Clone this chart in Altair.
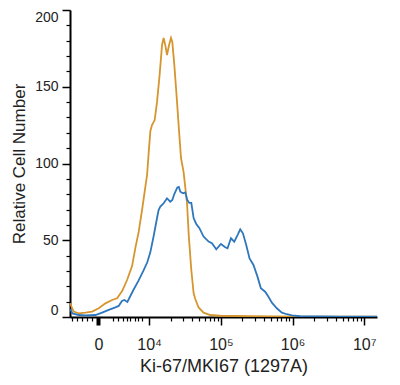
import math
import altair as alt
import pandas as pd

# x values are in display decades (biexponential-like axis: 10^4 -> 4, 10^5 -> 5 ...)
orange_x = [2.90, 2.923, 2.948, 3.018, 3.111, 3.205, 3.297, 3.390, 3.483, 3.553, 3.623, 3.692,
            3.762, 3.808, 3.854, 3.901, 3.947, 3.971, 3.993, 4.017, 4.040, 4.077, 4.110, 4.146,
            4.180, 4.202, 4.226, 4.249, 4.277, 4.305, 4.323, 4.351, 4.379, 4.411, 4.444, 4.480,
            4.528, 4.553, 4.588, 4.620, 4.643, 4.689, 4.759, 4.852, 4.99, 5.41, 6.106, 7.178]
orange_y = [9.1, 5.9, 3.5, 2.4, 2.8, 3.5, 5.7, 8.9, 11.1, 12.2, 16.9, 24.1,
            33.2, 45.0, 55.4, 69.7, 84.7, 92.5, 106.8, 121.2, 125.1, 128.3, 140.1, 157.7,
            177.2, 181.8, 177.0, 170.7, 177.0, 181.8, 179.2, 164.2, 146.6, 125.1, 103.6, 94.5,
            74.3, 52.8, 30.6, 15.6, 11.7, 6.2, 2.8, 1.3, 0.8, 0.5, 0.3, 0.2]

blue_x = [2.90, 2.930, 3.018, 3.111, 3.251, 3.344, 3.436, 3.529, 3.575, 3.620, 3.655, 3.696,
          3.738, 3.780, 3.850, 3.919, 3.975, 4.017, 4.063, 4.110, 4.132, 4.156, 4.202, 4.249,
          4.295, 4.323, 4.351, 4.393, 4.414, 4.435, 4.472, 4.504, 4.532, 4.560, 4.588, 4.620,
          4.657, 4.699, 4.759, 4.829, 4.876, 4.936, 5.001, 5.061, 5.093, 5.141, 5.187, 5.233,
          5.270, 5.308, 5.354, 5.400, 5.455, 5.511, 5.558, 5.618, 5.664, 5.712, 5.781, 5.851,
          5.921, 5.990, 6.106, 6.663, 7.178]
blue_y = [5.2, 2.3, 1.3, 1.0, 1.3, 2.8, 4.6, 6.3, 7.2, 10.4, 11.1, 9.8,
          13.7, 17.6, 23.5, 30.0, 35.8, 42.3, 52.8, 64.5, 69.7, 71.9, 74.1, 77.3,
          75.1, 76.2, 80.1, 84.4, 84.7, 81.6, 80.6, 81.1, 76.2, 74.3, 74.3, 64.5,
          60.6, 58.0, 52.4, 49.1, 48.0, 44.1, 47.6, 45.4, 44.8, 51.3, 49.1, 53.4,
          57.1, 54.5, 46.9, 38.2, 33.9, 26.3, 18.7, 16.5, 13.2, 9.3, 5.7, 2.8,
          1.8, 1.0, 0.5, 0.3, 0.3]

x_domain = [2.896, 7.178]
x_major = [3.293, 4, 5, 6, 7]
x_labels = ["0", "10\u2074", "10\u2075", "10\u2076", "10\u2077"]
x_minor_low = [2.93, 3.0, 3.07, 3.139, 3.209, 3.501, 3.571, 3.641, 3.696, 3.738, 3.808, 3.850, 3.905]
x_minor = x_minor_low + [n + math.log10(k) for n in (4, 5, 6) for k in range(2, 10)]

y_major = [0, 50, 100, 150, 200]
y_minor = [v for v in range(10, 200, 10) if v % 50 != 0]

FONT = "Liberation Sans"

expr = "''"
for v, l in reversed(list(zip(x_major, x_labels))):
    expr = f"abs(datum.value - {v}) < 0.01 ? '{l}' : ({expr})"

orange_df = pd.DataFrame({"x": orange_x, "y": orange_y})
blue_df = pd.DataFrame({"x": blue_x, "y": blue_y})

xscale = alt.Scale(domain=x_domain, nice=False, zero=False)
yscale = alt.Scale(domain=[0, 200], nice=False, zero=True)

major_x_axis = alt.Axis(
    orient="bottom", values=x_major, labelExpr=expr, grid=False,
    tickSize=8, tickColor="black",
    tickWidth={"condition": {"test": "abs(datum.value - 3.293) < 0.01", "value": 4}, "value": 1.5},
    domainColor="black", domainWidth=2, labelFont=FONT, labelFontSize=16, labelColor="#222",
    labelPadding=11, labelFlush=False, title="Ki-67/MKI67 (1297A)", titleFont=FONT,
    titleFontSize=18, titleFontWeight="normal", titleColor="#222", titlePadding=5,
)
major_y_axis = alt.Axis(
    orient="left", values=y_major, grid=False, tickSize=8, tickColor="black", tickWidth=1.5,
    domainColor="black", domainWidth=2, labelFont=FONT, labelFontSize=14, labelColor="#222",
    labelPadding=4, labelFlush=True, title="Relative Cell Number", titleFont=FONT,
    titleFontSize=17, titleFontWeight="normal", titleColor="#222", titlePadding=6,
)
minor_x_axis = alt.Axis(orient="bottom", values=x_minor, labels=False, grid=False, domain=False,
                        tickSize=4, tickColor="black", tickWidth=1.2, title=None)
minor_y_axis = alt.Axis(orient="left", values=y_minor, labels=False, grid=False, domain=False,
                        tickSize=4, tickColor="black", tickWidth=1.2, title=None)

orange = alt.Chart(orange_df).mark_line(color="#D6952E", strokeWidth=1.8, clip=True).encode(
    x=alt.X("x:Q", scale=xscale, axis=major_x_axis),
    y=alt.Y("y:Q", scale=yscale, axis=major_y_axis),
)
blue = alt.Chart(blue_df).mark_line(color="#2F77BD", strokeWidth=1.8, clip=True).encode(
    x=alt.X("x:Q", scale=xscale, axis=minor_x_axis),
    y=alt.Y("y:Q", scale=yscale, axis=minor_y_axis),
)

chart = alt.layer(orange, blue).resolve_axis(x="independent", y="independent").properties(
    width=307, height=307,
    autosize=alt.AutoSizeParams(type="none"),
    padding={"left": 62, "top": 2, "right": 10, "bottom": 60},
).configure_view(stroke=None)

chart.save("out.html", embed_options={"renderer": "svg", "actions": False})
